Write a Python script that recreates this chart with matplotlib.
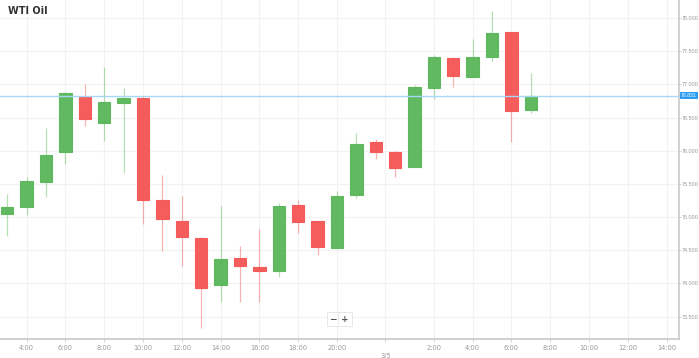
import matplotlib
matplotlib.use("Agg")
import matplotlib.pyplot as plt
from matplotlib.patches import Rectangle

# ---- data ----
slots  = list(range(28))
opens  = [75.047, 75.148, 75.533, 75.976, 76.813, 76.422, 76.714, 76.798, 75.258, 74.946,
          74.690, 73.977, 74.389, 74.248, 74.188, 75.178, 74.937, 74.535, 75.333, 76.136,
          75.985, 75.755, 76.944, 77.392, 77.114, 77.407, 77.783, 76.613]
highs  = [75.348, 75.608, 76.337, 76.880, 77.005, 77.265, 76.940, 76.824, 75.634, 75.318,
          74.700, 75.172, 74.565, 74.816, 75.217, 75.258, 74.945, 75.393, 76.262, 76.176,
          75.990, 76.985, 77.441, 77.407, 77.678, 78.108, 77.790, 77.175]
lows   = [74.720, 75.027, 75.298, 75.795, 76.377, 76.146, 75.669, 74.892, 74.489, 74.268,
          73.334, 73.717, 73.717, 73.717, 74.102, 74.765, 74.434, 74.535, 75.283, 75.875,
          75.608, 75.755, 76.779, 76.955, 77.114, 77.355, 76.136, 76.563]
closes = [75.148, 75.539, 75.940, 76.873, 76.477, 76.733, 76.789, 75.253, 74.967, 74.700,
          73.937, 74.374, 74.259, 74.188, 75.163, 74.931, 74.545, 75.318, 76.096, 75.976,
          75.735, 76.955, 77.407, 77.120, 77.407, 77.768, 76.602, 76.831]
xtick_pos    = [1, 3, 5, 7, 9, 11, 13, 15, 17, 19.5, 22, 24, 26, 28, 30, 32, 34]
xtick_labels = ["4:00", "6:00", "8:00", "10:00", "12:00", "14:00", "16:00", "18:00", "20:00",
                "3/5", "2:00", "4:00", "6:00", "8:00", "10:00", "12:00", "14:00"]
ytick_vals = [73.5, 74.0, 74.5, 75.0, 75.5, 76.0, 76.5, 77.0, 77.5, 78.0]
title = "WTI Oil"

GREEN = "#5cb85c"
RED = "#f55858"

fig = plt.figure(figsize=(6.99, 3.58), dpi=100)
ax = fig.add_axes([0.0, 19/358, 679/699, 339/358])
ax.set_xlim(-0.376, 34.64)
ax.set_ylim(73.164, 78.27)

for s in ["top", "left"]:
    ax.spines[s].set_visible(False)
for s in ["right", "bottom"]:
    ax.spines[s].set_color("#c8c8c8")
    ax.spines[s].set_linewidth(1.2)

ax.yaxis.tick_right()
ax.set_yticks(ytick_vals)
ax.set_yticklabels([f"{v:.3f}" for v in ytick_vals])
ax.set_xticks(xtick_pos)
ax.set_xticklabels(xtick_labels)
ax.tick_params(axis="x", colors="#cccccc", labelcolor="#999999", labelsize=4.8,
               length=2, width=0.6, pad=2)
ax.tick_params(axis="y", colors="#cccccc", labelcolor="#999999", labelsize=3.9,
               length=1.2, width=0.6, pad=0.8)
for lab in ax.get_yticklabels():
    lab.set_fontfamily("Liberation Sans")
for lab in ax.get_xticklabels():
    if lab.get_text() == "3/5":
        lab.set_y(-0.025)

ax.grid(True, color="#f2f2f2", linewidth=0.8)
ax.set_axisbelow(True)

w = 0.64
for x, o, h, l, c in zip(slots, opens, highs, lows, closes):
    col = GREEN if c >= o else RED
    ax.vlines(x, l, h, color=col, alpha=0.45, linewidth=0.9, zorder=2)
    lo, hi = min(o, c), max(o, c)
    ax.add_patch(Rectangle((x - w / 2, lo), w, max(hi - lo, 0.01), facecolor=col,
                           edgecolor=col, linewidth=0.8, alpha=0.97, zorder=3))

last = closes[-1]
ax.axhline(last, color="#a6d8f5", linewidth=1.0, zorder=4)
ax.text(1.003, last, f"{last:.3f}", transform=ax.get_yaxis_transform(), fontsize=3.7,
        family="Liberation Sans", color="white", va="center", ha="left",
        bbox=dict(boxstyle="square,pad=0.2", facecolor="#2b9cf2", edgecolor="none"))

fig.text(8/699, 1 - 11/358, title, fontsize=7, fontweight="bold", color="#333333",
         va="center", ha="left")

# zoom buttons
for xc, sym in [(333/699, "\u2212"), (345/699, "+")]:
    fig.text(xc, 1 - 319/358, sym, fontsize=6.5, fontweight="bold", color="#555555",
             ha="center", va="center",
             bbox=dict(boxstyle="square,pad=0.3", facecolor="white", edgecolor="#e4e4e4",
                       linewidth=0.6))

fig.savefig("out.png", dpi=100)
